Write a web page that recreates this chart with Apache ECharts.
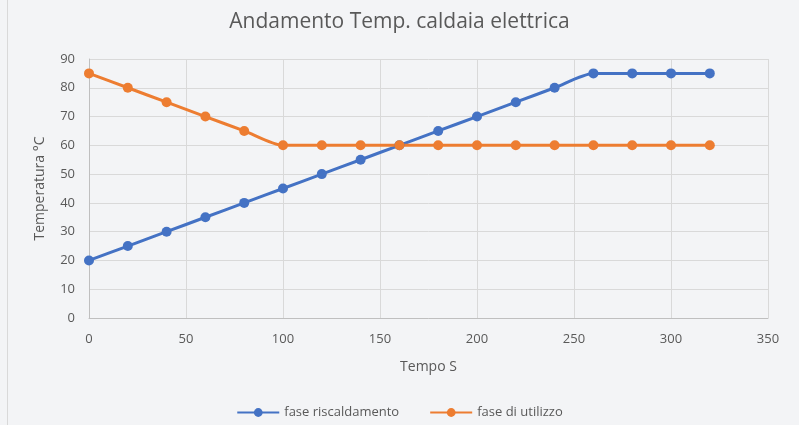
<!DOCTYPE html>
<html><head><meta charset="utf-8">
<script src="https://cdn.jsdelivr.net/npm/echarts@6/dist/echarts.min.js"></script>
<style>html,body{margin:0;padding:0;background:#f3f4f6}#c{width:799px;height:425px}</style>
</head><body><div id="c"></div>
<script>
const times = [0,20,40,60,80,100,120,140,160,180,200,220,240,260,280,300,320];
const riscaldamento = [20,25,30,35,40,45,50,55,60,65,70,75,80,85,85,85,85];
const utilizzo = [85,80,75,70,65,60,60,60,60,60,60,60,60,60,60,60,60];
const xTicks = [0,50,100,150,200,250,300,350];
const yTicks = [0,10,20,30,40,50,60,70,80,90];

const font = 'Open Sans';
const chart = echarts.init(document.getElementById('c'));
chart.setOption({
  backgroundColor: '#f3f4f6',
  animation: false,
  title: {text: 'Andamento Temp. caldaia elettrica', left: 'center', top: 7,
    textStyle: {fontFamily: font, fontSize: 21, fontWeight: 'normal', color: '#595959'}},
  graphic: [{type: 'line', shape: {x1: 7.5, y1: 0, x2: 7.5, y2: 425}, style: {stroke: '#d9d9d9', lineWidth: 1}}],
  grid: {left: 89, right: 31, top: 59, bottom: 107, containLabel: false},
  legend: {bottom: 1, itemWidth: 42, itemHeight: 11, itemGap: 30,
    textStyle: {fontFamily: font, fontSize: 13, color: '#595959'},
    data: ['fase riscaldamento', 'fase di utilizzo']},
  xAxis: {type: 'value', min: 0, max: 350, interval: 50,
    name: 'Tempo S', nameLocation: 'middle', nameGap: 42,
    nameTextStyle: {fontFamily: font, fontSize: 14, color: '#595959'},
    axisLine: {show: true, lineStyle: {color: '#bfbfbf'}},
    axisTick: {show: false},
    axisLabel: {fontFamily: font, fontSize: 13, color: '#595959', margin: 15,
      formatter: v => xTicks.includes(v) ? String(v) : ''},
    splitLine: {show: true, lineStyle: {color: '#d9d9d9'}}},
  yAxis: {type: 'value', min: 0, max: 90, interval: 10,
    name: 'Temperatura °C', nameLocation: 'middle', nameGap: 42, nameRotate: 90,
    nameTextStyle: {fontFamily: font, fontSize: 14, color: '#595959'},
    axisLine: {show: true, lineStyle: {color: '#bfbfbf'}},
    axisTick: {show: false},
    axisLabel: {fontFamily: font, fontSize: 13, color: '#595959', margin: 14,
      formatter: v => yTicks.includes(v) ? String(v) : ''},
    splitLine: {show: true, lineStyle: {color: '#d9d9d9'}}},
  series: [
    {name: 'fase riscaldamento', type: 'line', smooth: 0.25,
     data: times.map((t, i) => [t, riscaldamento[i]]),
     symbol: 'circle', symbolSize: 10, color: '#4472c4',
     lineStyle: {width: 3, color: '#4472c4'}, itemStyle: {color: '#4472c4'}},
    {name: 'fase di utilizzo', type: 'line', smooth: 0.25,
     data: times.map((t, i) => [t, utilizzo[i]]),
     symbol: 'circle', symbolSize: 10, color: '#ed7d31',
     lineStyle: {width: 3, color: '#ed7d31'}, itemStyle: {color: '#ed7d31'}}
  ]
});
</script></body></html>
